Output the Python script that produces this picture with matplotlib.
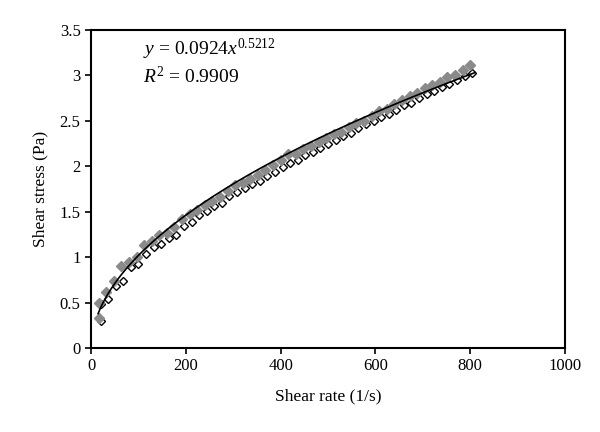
import matplotlib
matplotlib.use("Agg")
import matplotlib.pyplot as plt
import numpy as np

# -----------------------------
# Data
# -----------------------------
rate_a = [16, 16, 32, 48, 64, 80, 96, 112, 128, 144, 160, 176, 192, 208, 224,
          240, 256, 272, 288, 304, 320, 336, 352, 368, 384, 400, 416, 432,
          448, 464, 480, 496, 512, 528, 544, 560, 576, 592, 608, 624, 640,
          656, 672, 688, 704, 720, 736, 752, 768, 784, 800]
stress_a = [0.50, 0.33, 0.62, 0.74, 0.90, 0.95, 1.00, 1.13, 1.18, 1.24, 1.27,
            1.33, 1.42, 1.48, 1.52, 1.57, 1.62, 1.66, 1.73, 1.79, 1.82, 1.86,
            1.90, 1.96, 2.01, 2.07, 2.13, 2.13, 2.19, 2.22, 2.27, 2.31, 2.35,
            2.38, 2.43, 2.48, 2.50, 2.55, 2.61, 2.63, 2.68, 2.73, 2.77, 2.81,
            2.86, 2.89, 2.93, 2.98, 3.01, 3.06, 3.11]

rate_b = [20, 20, 36, 52, 68, 84, 100, 116, 132, 148, 164, 180, 196, 212,
          228, 244, 260, 276, 292, 308, 324, 340, 356, 372, 388, 404, 420,
          436, 452, 468, 484, 500, 516, 532, 548, 564, 580, 596, 612, 628,
          644, 660, 676, 692, 708, 724, 740, 756, 772, 788, 804]
stress_b = [0.48, 0.30, 0.54, 0.68, 0.74, 0.89, 0.93, 1.04, 1.11, 1.14, 1.21,
            1.24, 1.34, 1.39, 1.46, 1.51, 1.56, 1.60, 1.67, 1.72, 1.76, 1.80,
            1.84, 1.89, 1.94, 1.99, 2.04, 2.07, 2.12, 2.16, 2.20, 2.25, 2.29,
            2.33, 2.37, 2.42, 2.46, 2.50, 2.54, 2.58, 2.62, 2.67, 2.70, 2.75,
            2.79, 2.83, 2.87, 2.91, 2.95, 2.99, 3.03]

fit_a = 0.0924
fit_b = 0.5212
fit_r2 = 0.9909
fit_range = [15, 810]

# -----------------------------
# Plot
# -----------------------------
plt.rcParams["font.family"] = ["Liberation Serif", "DejaVu Serif"]
plt.rcParams["mathtext.fontset"] = "custom"
plt.rcParams["mathtext.rm"] = "Liberation Serif"
plt.rcParams["mathtext.it"] = "Liberation Serif:italic"

fig = plt.figure(figsize=(6, 4.32), dpi=100)
ax = fig.add_axes([0.1517, 0.1944, 0.79, 0.7362])

ax.plot(rate_b, stress_b, linestyle="none",
        marker="D", markersize=4, markerfacecolor="white",
        markeredgecolor="black", markeredgewidth=1.0, zorder=2)
ax.plot(rate_a, stress_a, linestyle="none", color="#8a8a8a",
        marker="D", markersize=5, markeredgecolor="#8a8a8a", zorder=3)

xs = np.linspace(fit_range[0], fit_range[1], 200)
ax.plot(xs, fit_a * xs ** fit_b, color="black", linewidth=1.2, zorder=4)

ax.text(0.11, 0.94, r"$y$ = 0.0924$x^{0.5212}$", transform=ax.transAxes,
        fontsize=14, va="center")
ax.text(0.11, 0.855, r"$R^2$ = %.4f" % fit_r2, transform=ax.transAxes,
        fontsize=14, va="center")

ax.set_xlim(0, 1000)
ax.set_ylim(0, 3.5)
ax.set_xticks([0, 200, 400, 600, 800, 1000])
ax.set_yticks([0, 0.5, 1, 1.5, 2, 2.5, 3, 3.5])
ax.set_yticklabels(["0", "0.5", "1", "1.5", "2", "2.5", "3", "3.5"])
ax.tick_params(direction="out", length=4, width=1.2, labelsize=12)
for s in ax.spines.values():
    s.set_linewidth(1.5)

ax.set_xlabel("Shear rate (1/s)", fontsize=12.5, labelpad=10)
ax.set_ylabel("Shear stress (Pa)", fontsize=12.5, labelpad=8)

plt.savefig("out.png", dpi=100)
plt.close()
